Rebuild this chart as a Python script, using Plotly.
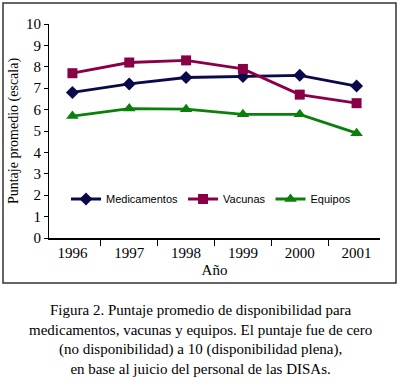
import plotly.graph_objects as go

years = ["1996", "1997", "1998", "1999", "2000", "2001"]
medicamentos = [6.8, 7.2, 7.5, 7.55, 7.6, 7.1]
vacunas = [7.7, 8.2, 8.3, 7.9, 6.7, 6.3]
equipos = [5.7, 6.05, 6.02, 5.78, 5.78, 4.9]

caption = ("Figura 2. Puntaje promedio de disponibilidad para<br>"
           "medicamentos, vacunas y equipos. El puntaje fue de cero<br>"
           "(no disponibilidad) a 10 (disponibilidad plena),<br>"
           "en base al juicio del personal de las DISAs.")

fig = go.Figure()
fig.add_trace(go.Scatter(x=years, y=medicamentos, name="Medicamentos", mode="lines+markers",
                         line=dict(color="#0a0a4a", width=2.8),
                         marker=dict(symbol="diamond", size=10, color="#0a0a4a")))
fig.add_trace(go.Scatter(x=years, y=vacunas, name="Vacunas", mode="lines+markers",
                         line=dict(color="#8a0046", width=2.8),
                         marker=dict(symbol="square", size=10, color="#8a0046")))
fig.add_trace(go.Scatter(x=years, y=equipos, name="Equipos", mode="lines+markers",
                         line=dict(color="#0a800a", width=2.8),
                         marker=dict(symbol="triangle-up", size=11, color="#0a800a")))

PW, PH = 331, 214  # plot area size in px (for paper-fraction conversions)

fig.update_layout(
    width=400, height=392,
    margin=dict(l=49, r=20, t=24, b=154),
    paper_bgcolor="white", plot_bgcolor="white",
    font=dict(family="Liberation Serif", color="black"),
    showlegend=True,
    legend=dict(orientation="h", x=(211-49)/PW, xanchor="center", y=(238-199)/PH, yanchor="middle",
                font=dict(family="Liberation Sans", size=11, color="black"),
                bgcolor="rgba(0,0,0,0)", itemwidth=30, tracegroupgap=0),
    xaxis=dict(type="category", tickson="boundaries", ticks="outside", ticklen=6,
               tickcolor="black", showline=True, linecolor="black", linewidth=2,
               showgrid=False, tickfont=dict(family="Liberation Serif", size=15),
               title=dict(text="Año", font=dict(family="Liberation Serif", size=15), standoff=4)),
    yaxis=dict(range=[0, 10], dtick=1, ticks="outside", ticklen=4, tickcolor="black",
               showline=True, linecolor="black", linewidth=1, showgrid=False, zeroline=False,
               tickfont=dict(family="Liberation Serif", size=15),
               title=dict(text="Puntaje promedio (escala)",
                          font=dict(family="Liberation Serif", size=14), standoff=4)),
    shapes=[dict(type="rect", xref="paper", yref="paper", layer="above",
                 x0=-46/PW, x1=347/PW, y0=(238-283)/PH, y1=(238-3)/PH,
                 line=dict(color="#333333", width=1.5), fillcolor="rgba(0,0,0,0)")],
    annotations=[
        dict(text=caption, xref="paper", yref="paper", x=(200-49)/PW,
             y=(238-300)/PH, xanchor="center", yanchor="top", showarrow=False,
             align="center", font=dict(family="Liberation Serif", size=15, color="black")),
    ],
)

fig.write_html("out.html", config={"displayModeBar": False},
               post_script="document.body.style.margin='0';")
